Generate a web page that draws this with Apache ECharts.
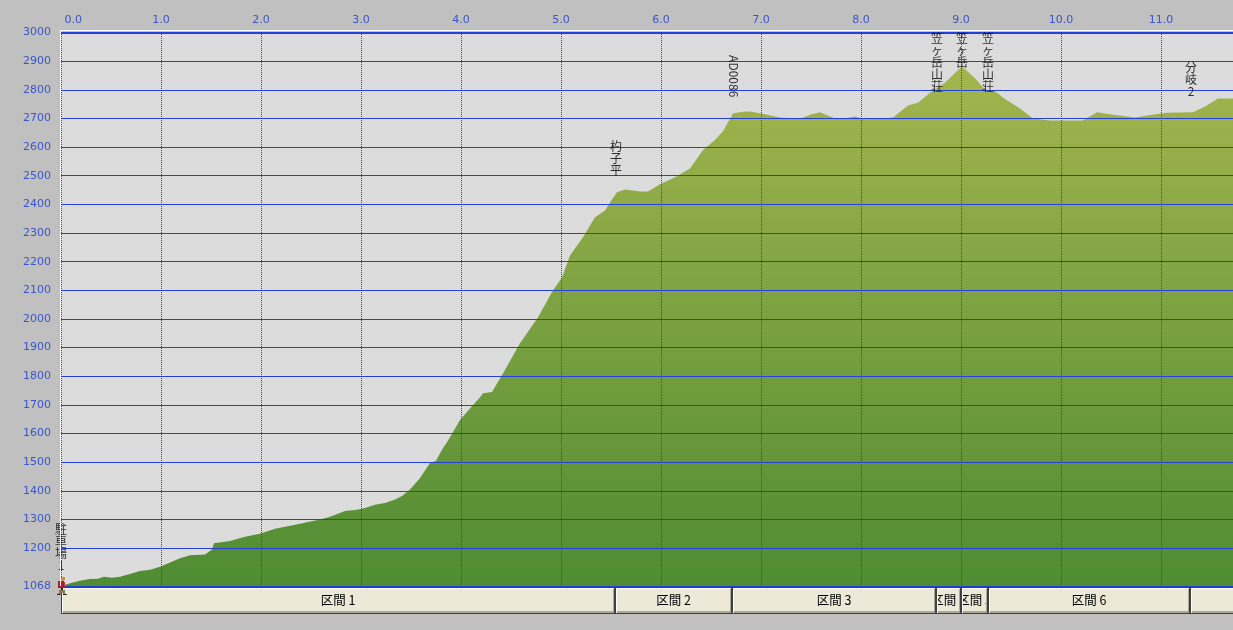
<!DOCTYPE html>
<html><head><meta charset="utf-8">
<style>html,body{margin:0;padding:0;background:#C0C0C0;overflow:hidden}#c{width:1233px;height:630px}</style>
<script src="https://cdn.jsdelivr.net/npm/echarts@6/dist/echarts.min.js"></script>
</head><body><div id="c"></div>
<script>
const distKm = [0,0.09,0.19,0.29,0.37,0.43,0.51,0.59,0.69,0.79,0.89,0.99,1.09,1.19,1.29,1.44,1.51,1.53,1.55,1.69,1.84,1.99,2.14,2.24,2.39,2.59,2.69,2.84,2.94,2.99,3.04,3.14,3.24,3.34,3.41,3.49,3.59,3.69,3.75,3.82,3.86,3.99,4.09,4.19,4.22,4.31,4.42,4.59,4.77,4.92,5.01,5.09,5.22,5.34,5.44,5.49,5.56,5.64,5.79,5.87,5.99,6.14,6.29,6.42,6.54,6.62,6.72,6.84,6.91,7.04,7.19,7.39,7.51,7.59,7.74,7.84,7.94,8.04,8.19,8.32,8.47,8.57,8.69,8.84,9.01,9.14,9.24,9.34,9.44,9.59,9.72,9.89,10.22,10.36,10.54,10.74,10.89,11.06,11.32,11.44,11.57,11.72];
const elevM = [1068,1078,1086,1092,1093,1100,1097,1100,1110,1120,1125,1135,1150,1165,1175,1178,1195,1217,1221,1225,1240,1250,1268,1275,1285,1300,1310,1330,1333,1336,1340,1352,1358,1370,1382,1405,1445,1497,1505,1550,1570,1647,1688,1727,1741,1745,1810,1915,2006,2100,2145,2222,2285,2355,2379,2407,2442,2452,2445,2445,2470,2495,2525,2590,2625,2655,2718,2724,2723,2715,2703,2700,2715,2722,2700,2700,2707,2697,2700,2703,2745,2755,2790,2825,2882,2840,2800,2795,2768,2735,2700,2693,2693,2722,2712,2703,2712,2720,2722,2742,2770,2770];
const yTicks = [1068,1200,1300,1400,1500,1600,1700,1800,1900,2000,2100,2200,2300,2400,2500,2600,2700,2800,2900,3000];
const wayNames = ['駐\n車\n場\n1','杓\n子\n平','AD0086','笠\nヶ\n岳\n山\n荘','笠\nヶ\n岳','笠\nヶ\n岳\n山\n荘','分\n岐\n2'];
const wayKm = [0,5.55,6.73,8.76,9.01,9.27,11.3];
const wayElev = [1068,2445,2718,2790,2882,2800,2722];
const sectionNames = ['区間 1','区間 2','区間 3','区間 4','区間 5','区間 6','区間 7'];
const sectionStart = [0,5.54,6.71,8.75,9.0,9.27,11.29];
const sectionEnd = [5.54,6.71,8.75,9.0,9.27,11.29,13.2];

const BLUE='#2440D8', LABEL='#3A55CC';
const chart = echarts.init(document.getElementById('c'),null,{renderer:'canvas'});
const xMax = 11.72, gridTop = 32.5, gridH = 553.5, yMin = 1068, yMax = 3000;
// a waypoint label sits 15px over its point, but is pushed down so it stays under the top edge
const labelGap = (elev, name) => {
  const py = (yMax - elev) * gridH / (yMax - yMin);
  return Math.min(15, py - name.split('\n').length * 12);
};
chart.setOption({
  animation:false,
  backgroundColor:'#C0C0C0',
  graphic:[
    {type:'rect',silent:true,z:10,shape:{x:60,y:30,width:1173,height:1},style:{fill:'#fff'}},
    {type:'rect',silent:true,z:10,shape:{x:60,y:30,width:1,height:556},style:{fill:'#fff'}}
  ],
  grid:[
    {left:61,top:gridTop,right:0,height:gridH,show:true,backgroundColor:'#DCDCDC',borderWidth:0},
    {left:61,top:587,right:0,height:27,show:false}
  ],
  xAxis:[
    {gridIndex:0,type:'value',position:'top',min:0,max:xMax,interval:1,z:5,
     axisLine:{show:true,onZero:false,lineStyle:{color:BLUE,width:2}},
     axisTick:{show:false},
     axisLabel:{color:LABEL,fontFamily:'DejaVu Sans',fontSize:11,margin:7,showMaxLabel:false,alignMinLabel:'left',
       formatter:v=>v===0?'\u00A00.0':v.toFixed(1)},
     splitLine:{show:true,lineStyle:{color:BLUE,width:1,type:[1,1],dashOffset:0.5}}},
    {gridIndex:1,type:'value',min:0,max:xMax,show:false}
  ],
  yAxis:[
    {gridIndex:0,type:'value',min:yMin,max:yMax,z:5,
     axisLine:{show:false},
     axisTick:{show:false,customValues:yTicks},
     axisLabel:{color:LABEL,fontFamily:'DejaVu Sans',fontSize:11,margin:10,customValues:yTicks,showMinLabel:true,showMaxLabel:true,formatter:v=>String(v)},
     splitLine:{show:true,showMinLine:true,showMaxLine:false,lineStyle:{color:BLUE,width:1,type:'solid'}}},
    {gridIndex:1,type:'value',min:0,max:1,show:false}
  ],
  series:[
    {type:'line',xAxisIndex:0,yAxisIndex:0,z:1,symbol:'none',silent:true,
     data:distKm.map((k,i)=>[k,elevM[i]]),
     lineStyle:{width:0},
     areaStyle:{opacity:1,color:{type:'linear',x:0,y:0,x2:0,y2:1,colorStops:[{offset:0,color:'#A4B54E'},{offset:1,color:'#4F8C33'}]}}},
    {type:'scatter',xAxisIndex:0,yAxisIndex:0,z:8,symbolSize:0,silent:true,clip:false,
     data:wayNames.map((n,i)=>{
       const latin=/^[A-Z0-9]+$/.test(n);
       return {value:[wayKm[i],wayElev[i]],name:n,
         label:latin?{rotate:-90,align:'right',verticalAlign:'middle',position:'top',distance:16}
                    :{distance:labelGap(wayElev[i],n)}};
     }),
     label:{show:true,position:'top',formatter:p=>p.name,color:'#000',fontFamily:'Noto Sans CJK JP',fontSize:12,lineHeight:12}},
    {type:'custom',xAxisIndex:1,yAxisIndex:1,z:6,silent:true,clip:false,
     data:sectionNames.map((n,i)=>[sectionStart[i],sectionEnd[i],n]),
     encode:{x:[0,1]},
     renderItem:(params,api)=>{
       const s=api.coord([api.value(0),1]), e=api.coord([api.value(1),0]);
       const x=Math.round(s[0]), w=Math.round(e[0])-x, y=s[1], h=e[1]-s[1];
       const r=(X,Y,W,H,fill)=>({type:'rect',shape:{x:X,y:Y,width:W,height:H},style:{fill}});
       return {type:'group',children:[
         r(x,y,w,h,'#404040'),
         r(x+1,y+1,w-2,h-2,'#FFFFFF'),
         r(x+2,y+2,w-3,h-3,'#ACA899'),
         r(x+2,y+2,w-4,h-5,'#ECE9D8'),
         {type:'text',x:x+w/2,y:y+h/2,
          clipPath:{type:'rect',shape:{x:-(w/2-2),y:-h/2,width:w-4,height:h}},
          style:{text:sectionNames[params.dataIndex],fill:'#000',font:'12.5px "Noto Sans CJK JP"',textAlign:'center',textVerticalAlign:'middle'}}
       ]};
     }},
    {type:'custom',xAxisIndex:0,yAxisIndex:0,z:9,silent:true,clip:false,
     data:[[0,1068]],
     renderItem:(params,api)=>{
       const c=api.coord([api.value(0),api.value(1)]);
       const r=(X,Y,W,H,fill)=>({type:'rect',shape:{x:c[0]+X,y:c[1]+Y,width:W,height:H},style:{fill}});
       return {type:'group',children:[
         r(0,-9,4,3,'#E8822A'), r(-1,-6,4,2,'#D8A070'),
         r(-3,-5,6,7,'#A81E2A'), r(3,-4,1,5,'#C83040'),
         r(0,2,2,2,'#302020'),
         r(-2,4,6,3,'#8C7A5A'), r(-3,7,3,2,'#8C7A5A'), r(2,7,2,2,'#8C7A5A'),
         r(-4,8,3,1,'#302020'), r(2,8,4,1,'#302020')
       ]};
     }}
  ]
});
</script></body></html>
